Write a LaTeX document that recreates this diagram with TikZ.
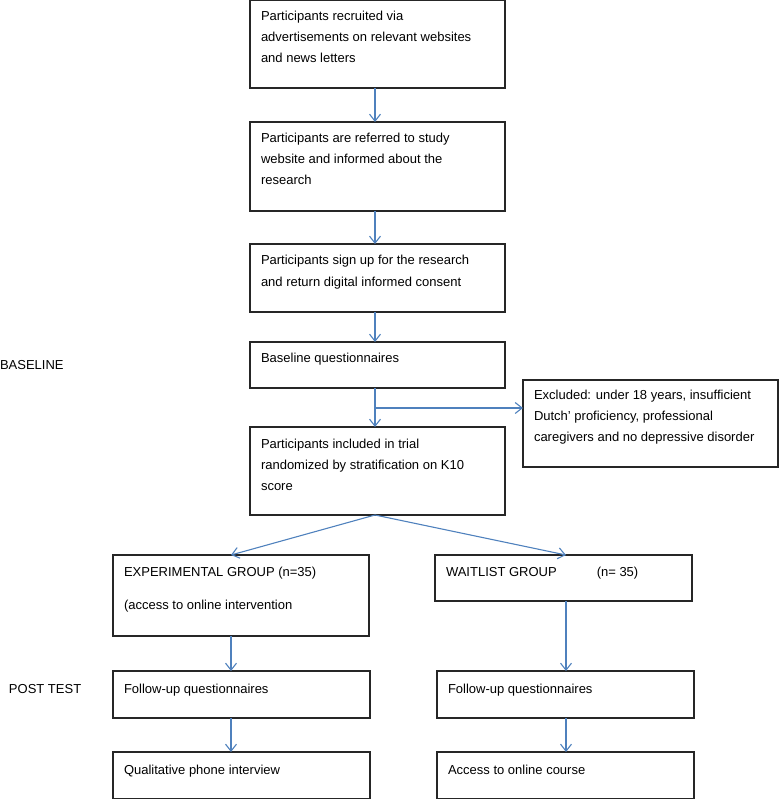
\documentclass[tikz,border=0pt]{standalone}
\usepackage{fontspec}
\setmainfont{Liberation Sans}
\usetikzlibrary{arrows.meta,calc}
\definecolor{arrowblue}{RGB}{79,129,189}
\begin{document}
\begin{tikzpicture}[x=1pt,y=-1pt,
  box/.style={draw=black!85, line width=1.2pt, rectangle, inner sep=0pt, outer sep=0pt, anchor=north west},
  txt/.style={anchor=base west, inner sep=0pt, outer sep=0pt, font=\fontsize{13pt}{21pt}\selectfont},
  arr/.style={draw=arrowblue, line width=1.1pt, -{Straight Barb[length=7pt,width=11pt]}}]
\useasboundingbox (0,0) rectangle (779,799);
% boxes
\node[box, minimum width=255pt, minimum height=88pt] (b1) at (250,0) {};
\node[box, minimum width=255pt, minimum height=89pt] (b2) at (250,122) {};
\node[box, minimum width=255pt, minimum height=68pt] (b3) at (250,244) {};
\node[box, minimum width=255pt, minimum height=46pt] (b4) at (250,342) {};
\node[box, minimum width=255pt, minimum height=87pt] (ex) at (523,380) {};
\node[box, minimum width=255pt, minimum height=88pt] (b5) at (250,427) {};
\node[box, minimum width=256pt, minimum height=81pt] (b6) at (113,555) {};
\node[box, minimum width=257pt, minimum height=46pt] (b7) at (435,555) {};
\node[box, minimum width=257pt, minimum height=47pt] (b8) at (113,671) {};
\node[box, minimum width=257pt, minimum height=47pt] (b9) at (437,671) {};
\node[box, minimum width=257pt, minimum height=47pt] (b10) at (113,752) {};
\node[box, minimum width=257pt, minimum height=47pt] (b11) at (437,752) {};
% texts
\node[txt] (t1) at ($(b1.north west)+(11,21)$) {\parbox[t]{240pt}{Participants recruited via\\advertisements on relevant websites\\and news letters}};
\node[txt] (t2) at ($(b2.north west)+(11,21)$) {\parbox[t]{240pt}{Participants are referred to study\\website and informed about the\\research}};
\node[txt] (t3) at ($(b3.north west)+(11,21)$) {\parbox[t]{240pt}{Participants sign up for the research\\and return digital informed consent}};
\node[txt] (t4) at ($(b4.north west)+(11,20)$) {Baseline questionnaires};
\node[txt] (tex) at ($(ex.north west)+(11,19.5)$) {\parbox[t]{240pt}{Excluded: under 18 years, insufficient\\Dutch' proficiency, professional\\caregivers and no depressive disorder}};
\node[txt] (t5) at ($(b5.north west)+(11,21)$) {\parbox[t]{240pt}{Participants included in trial\\randomized by stratification on K10\\score}};
\node[txt] (t6) at ($(b6.north west)+(11,21)$) {\parbox[t]{240pt}{EXPERIMENTAL GROUP (n=35)\\[12pt](access to online intervention}};
\node[txt] (t7) at ($(b7.north west)+(11,21)$) {WAITLIST GROUP\hspace{40pt}(n= 35)};
\node[txt] (t8) at ($(b8.north west)+(11,22)$) {Follow-up questionnaires};
\node[txt] (t9) at ($(b9.north west)+(11,22)$) {Follow-up questionnaires};
\node[txt] (t10) at ($(b10.north west)+(11,22)$) {Qualitative phone interview};
\node[txt] (t11) at ($(b11.north west)+(11,22)$) {Access to online course};
\node[txt] (lbase) at (0,369.5) {BASELINE};
\node[txt] (lpost) at (9,693) {POST TEST};
% columns
\coordinate (cx) at (375,0);
\coordinate (lx) at (231,0);
\coordinate (rx) at (566,0);
% arrows
\draw[arr] (b1.south -| cx) -- (b2.north -| cx);
\draw[arr] (b2.south -| cx) -- (b3.north -| cx);
\draw[arr] (b3.south -| cx) -- (b4.north -| cx);
\draw[arr] (b4.south -| cx) -- (b5.north -| cx);
\coordinate (br) at (375,408);
\draw[arr] (br) -- (br -| ex.west);
\draw[arr] (b5.south -| cx) -- (b6.north -| lx);
\draw[arr] (b5.south -| cx) -- (b7.north -| rx);
\draw[arr] (b6.south -| lx) -- (b8.north -| lx);
\draw[arr] (b7.south -| rx) -- (b9.north -| rx);
\draw[arr] (b8.south -| lx) -- (b10.north -| lx);
\draw[arr] (b9.south -| rx) -- (b11.north -| rx);
\end{tikzpicture}
\end{document}
